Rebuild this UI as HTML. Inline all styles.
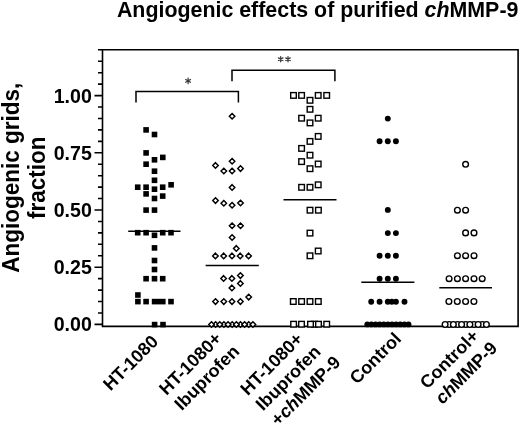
<!DOCTYPE html>
<html><head><meta charset="utf-8"><style>
html,body{margin:0;padding:0;background:#fff;}
body{width:520px;height:424px;overflow:hidden;}
svg{display:block;filter:grayscale(1);}
</style></head><body>
<svg width="520" height="424" viewBox="0 0 520 424">
<rect width="520" height="424" fill="#fff"/>
<text x="518.4" y="17.4" text-anchor="end" font-family="Liberation Sans, sans-serif" font-weight="bold" font-size="21.4" textLength="401.5" lengthAdjust="spacingAndGlyphs">Angiogenic effects of purified <tspan font-style="italic">ch</tspan>MMP-9</text>
<g transform="translate(18.8,177.8) rotate(-90) scale(1,1.07)"><text x="0" y="0" text-anchor="middle" font-family="Liberation Sans, sans-serif" font-weight="bold" font-size="22.5">Angiogenic grids,</text></g>
<g transform="translate(45.0,177.8) rotate(-90) scale(1,1.07)"><text x="0" y="0" text-anchor="middle" font-family="Liberation Sans, sans-serif" font-weight="bold" font-size="22.5">fraction</text></g>
<path d="M94.5,324.40H102.5 M98.0,312.96H102.5 M98.0,301.52H102.5 M98.0,290.08H102.5 M98.0,278.64H102.5 M94.5,267.20H102.5 M98.0,255.76H102.5 M98.0,244.32H102.5 M98.0,232.88H102.5 M98.0,221.44H102.5 M94.5,210.00H102.5 M98.0,198.56H102.5 M98.0,187.12H102.5 M98.0,175.68H102.5 M98.0,164.24H102.5 M94.5,152.80H102.5 M98.0,141.36H102.5 M98.0,129.92H102.5 M98.0,118.48H102.5 M98.0,107.04H102.5 M94.5,95.60H102.5 M98.0,84.16H102.5 M98.0,72.72H102.5 M98.0,61.28H102.5" stroke="#000" stroke-width="1.6" fill="none"/>
<path d="M98.0,49.8H518.1V326.4H102.5V49.8" stroke="#000" stroke-width="1.6" fill="none" stroke-linejoin="miter"/>
<text x="91.8" y="102.60" text-anchor="end" font-family="Liberation Sans, sans-serif" font-weight="bold" font-size="19.6">1.00</text>
<text x="91.8" y="159.80" text-anchor="end" font-family="Liberation Sans, sans-serif" font-weight="bold" font-size="19.6">0.75</text>
<text x="91.8" y="217.00" text-anchor="end" font-family="Liberation Sans, sans-serif" font-weight="bold" font-size="19.6">0.50</text>
<text x="91.8" y="274.20" text-anchor="end" font-family="Liberation Sans, sans-serif" font-weight="bold" font-size="19.6">0.25</text>
<text x="91.8" y="331.40" text-anchor="end" font-family="Liberation Sans, sans-serif" font-weight="bold" font-size="19.6">0.00</text>
<path d="M136,102.6V91.5H238.4V102.6" stroke="#000" stroke-width="1.5" fill="none"/>
<path d="M232,81.2V70.2H334.9V81.2" stroke="#000" stroke-width="1.5" fill="none"/>
<path d="M188.10,78.10L188.10,83.70M185.68,79.50L190.52,82.30M190.52,79.50L185.68,82.30" stroke="#3a3a3a" stroke-width="1.25" stroke-linecap="round"/>
<path d="M280.70,56.60L280.70,61.80M278.45,57.90L282.95,60.50M282.95,57.90L278.45,60.50" stroke="#3a3a3a" stroke-width="1.25" stroke-linecap="round"/>
<path d="M288.00,56.60L288.00,61.80M285.75,57.90L290.25,60.50M290.25,57.90L285.75,60.50" stroke="#3a3a3a" stroke-width="1.25" stroke-linecap="round"/>
<path d="M128.2,231.2H180.5" stroke="#000" stroke-width="1.5"/>
<path d="M205.6,265.4H258.8" stroke="#000" stroke-width="1.5"/>
<path d="M283.5,199.8H336.5" stroke="#000" stroke-width="1.5"/>
<path d="M361.3,282.3H414.4" stroke="#000" stroke-width="1.5"/>
<path d="M439.3,287.8H492.0" stroke="#000" stroke-width="1.5"/>
<rect x="151.8" y="298.8" width="13.8" height="5.6" fill="#000"/>
<rect x="143.30" y="127.10" width="5.6" height="5.6" fill="#000"/>
<rect x="151.70" y="131.70" width="5.6" height="5.6" fill="#000"/>
<rect x="143.30" y="150.10" width="5.6" height="5.6" fill="#000"/>
<rect x="160.00" y="154.60" width="5.6" height="5.6" fill="#000"/>
<rect x="151.70" y="157.00" width="5.6" height="5.6" fill="#000"/>
<rect x="143.30" y="161.40" width="5.6" height="5.6" fill="#000"/>
<rect x="151.70" y="168.40" width="5.6" height="5.6" fill="#000"/>
<rect x="151.70" y="177.50" width="5.6" height="5.6" fill="#000"/>
<rect x="168.30" y="182.00" width="5.6" height="5.6" fill="#000"/>
<rect x="134.90" y="184.40" width="5.6" height="5.6" fill="#000"/>
<rect x="143.30" y="184.40" width="5.6" height="5.6" fill="#000"/>
<rect x="159.90" y="184.40" width="5.6" height="5.6" fill="#000"/>
<rect x="151.70" y="186.40" width="5.6" height="5.6" fill="#000"/>
<rect x="143.30" y="191.10" width="5.6" height="5.6" fill="#000"/>
<rect x="159.90" y="193.30" width="5.6" height="5.6" fill="#000"/>
<rect x="151.70" y="195.70" width="5.6" height="5.6" fill="#000"/>
<rect x="143.30" y="207.30" width="5.6" height="5.6" fill="#000"/>
<rect x="151.70" y="207.30" width="5.6" height="5.6" fill="#000"/>
<rect x="134.90" y="229.90" width="5.6" height="5.6" fill="#000"/>
<rect x="143.30" y="229.90" width="5.6" height="5.6" fill="#000"/>
<rect x="159.90" y="229.90" width="5.6" height="5.6" fill="#000"/>
<rect x="168.20" y="229.90" width="5.6" height="5.6" fill="#000"/>
<rect x="151.70" y="232.50" width="5.6" height="5.6" fill="#000"/>
<rect x="151.70" y="245.10" width="5.6" height="5.6" fill="#000"/>
<rect x="151.70" y="257.70" width="5.6" height="5.6" fill="#000"/>
<rect x="151.70" y="266.70" width="5.6" height="5.6" fill="#000"/>
<rect x="143.30" y="275.90" width="5.6" height="5.6" fill="#000"/>
<rect x="151.70" y="275.90" width="5.6" height="5.6" fill="#000"/>
<rect x="159.90" y="275.90" width="5.6" height="5.6" fill="#000"/>
<rect x="135.10" y="292.20" width="5.6" height="5.6" fill="#000"/>
<rect x="135.10" y="298.80" width="5.6" height="5.6" fill="#000"/>
<rect x="143.30" y="298.80" width="5.6" height="5.6" fill="#000"/>
<rect x="168.20" y="298.80" width="5.6" height="5.6" fill="#000"/>
<rect x="151.80" y="321.80" width="5.6" height="5.6" fill="#000"/>
<rect x="160.20" y="321.80" width="5.6" height="5.6" fill="#000"/>
<path d="M232.10,113.45L234.85,116.20L232.10,118.95L229.35,116.20Z" fill="#fff" stroke="#000" stroke-width="1.45"/>
<path d="M232.10,158.45L234.85,161.20L232.10,163.95L229.35,161.20Z" fill="#fff" stroke="#000" stroke-width="1.45"/>
<path d="M215.50,162.65L218.25,165.40L215.50,168.15L212.75,165.40Z" fill="#fff" stroke="#000" stroke-width="1.45"/>
<path d="M240.50,165.85L243.25,168.60L240.50,171.35L237.75,168.60Z" fill="#fff" stroke="#000" stroke-width="1.45"/>
<path d="M223.80,168.25L226.55,171.00L223.80,173.75L221.05,171.00Z" fill="#fff" stroke="#000" stroke-width="1.45"/>
<path d="M232.10,168.25L234.85,171.00L232.10,173.75L229.35,171.00Z" fill="#fff" stroke="#000" stroke-width="1.45"/>
<path d="M232.10,184.65L234.85,187.40L232.10,190.15L229.35,187.40Z" fill="#fff" stroke="#000" stroke-width="1.45"/>
<path d="M215.50,197.85L218.25,200.60L215.50,203.35L212.75,200.60Z" fill="#fff" stroke="#000" stroke-width="1.45"/>
<path d="M223.80,200.55L226.55,203.30L223.80,206.05L221.05,203.30Z" fill="#fff" stroke="#000" stroke-width="1.45"/>
<path d="M240.50,200.25L243.25,203.00L240.50,205.75L237.75,203.00Z" fill="#fff" stroke="#000" stroke-width="1.45"/>
<path d="M232.10,202.55L234.85,205.30L232.10,208.05L229.35,205.30Z" fill="#fff" stroke="#000" stroke-width="1.45"/>
<path d="M232.10,223.05L234.85,225.80L232.10,228.55L229.35,225.80Z" fill="#fff" stroke="#000" stroke-width="1.45"/>
<path d="M240.50,223.05L243.25,225.80L240.50,228.55L237.75,225.80Z" fill="#fff" stroke="#000" stroke-width="1.45"/>
<path d="M232.10,234.75L234.85,237.50L232.10,240.25L229.35,237.50Z" fill="#fff" stroke="#000" stroke-width="1.45"/>
<path d="M236.30,245.65L239.05,248.40L236.30,251.15L233.55,248.40Z" fill="#fff" stroke="#000" stroke-width="1.45"/>
<path d="M215.40,253.15L218.15,255.90L215.40,258.65L212.65,255.90Z" fill="#fff" stroke="#000" stroke-width="1.45"/>
<path d="M223.70,253.15L226.45,255.90L223.70,258.65L220.95,255.90Z" fill="#fff" stroke="#000" stroke-width="1.45"/>
<path d="M232.00,253.15L234.75,255.90L232.00,258.65L229.25,255.90Z" fill="#fff" stroke="#000" stroke-width="1.45"/>
<path d="M240.20,253.15L242.95,255.90L240.20,258.65L237.45,255.90Z" fill="#fff" stroke="#000" stroke-width="1.45"/>
<path d="M248.60,253.15L251.35,255.90L248.60,258.65L245.85,255.90Z" fill="#fff" stroke="#000" stroke-width="1.45"/>
<path d="M240.40,272.85L243.15,275.60L240.40,278.35L237.65,275.60Z" fill="#fff" stroke="#000" stroke-width="1.45"/>
<path d="M223.60,275.65L226.35,278.40L223.60,281.15L220.85,278.40Z" fill="#fff" stroke="#000" stroke-width="1.45"/>
<path d="M231.90,275.65L234.65,278.40L231.90,281.15L229.15,278.40Z" fill="#fff" stroke="#000" stroke-width="1.45"/>
<path d="M240.40,280.65L243.15,283.40L240.40,286.15L237.65,283.40Z" fill="#fff" stroke="#000" stroke-width="1.45"/>
<path d="M231.90,285.15L234.65,287.90L231.90,290.65L229.15,287.90Z" fill="#fff" stroke="#000" stroke-width="1.45"/>
<path d="M248.70,294.35L251.45,297.10L248.70,299.85L245.95,297.10Z" fill="#fff" stroke="#000" stroke-width="1.45"/>
<path d="M215.50,298.85L218.25,301.60L215.50,304.35L212.75,301.60Z" fill="#fff" stroke="#000" stroke-width="1.45"/>
<path d="M223.80,298.85L226.55,301.60L223.80,304.35L221.05,301.60Z" fill="#fff" stroke="#000" stroke-width="1.45"/>
<path d="M232.00,298.85L234.75,301.60L232.00,304.35L229.25,301.60Z" fill="#fff" stroke="#000" stroke-width="1.45"/>
<path d="M240.40,298.85L243.15,301.60L240.40,304.35L237.65,301.60Z" fill="#fff" stroke="#000" stroke-width="1.45"/>
<path d="M215.64,321.75L218.39,324.50L215.64,327.25L212.89,324.50Z" fill="#fff" stroke="#000" stroke-width="1.45"/>
<path d="M223.92,321.75L226.67,324.50L223.92,327.25L221.17,324.50Z" fill="#fff" stroke="#000" stroke-width="1.45"/>
<path d="M232.20,321.75L234.95,324.50L232.20,327.25L229.45,324.50Z" fill="#fff" stroke="#000" stroke-width="1.45"/>
<path d="M240.48,321.75L243.23,324.50L240.48,327.25L237.73,324.50Z" fill="#fff" stroke="#000" stroke-width="1.45"/>
<path d="M248.76,321.75L251.51,324.50L248.76,327.25L246.01,324.50Z" fill="#fff" stroke="#000" stroke-width="1.45"/>
<path d="M211.50,321.75L214.25,324.50L211.50,327.25L208.75,324.50Z" fill="#fff" stroke="#000" stroke-width="1.45"/>
<path d="M219.78,321.75L222.53,324.50L219.78,327.25L217.03,324.50Z" fill="#fff" stroke="#000" stroke-width="1.45"/>
<path d="M228.06,321.75L230.81,324.50L228.06,327.25L225.31,324.50Z" fill="#fff" stroke="#000" stroke-width="1.45"/>
<path d="M236.34,321.75L239.09,324.50L236.34,327.25L233.59,324.50Z" fill="#fff" stroke="#000" stroke-width="1.45"/>
<path d="M244.62,321.75L247.37,324.50L244.62,327.25L241.87,324.50Z" fill="#fff" stroke="#000" stroke-width="1.45"/>
<path d="M252.90,321.75L255.65,324.50L252.90,327.25L250.15,324.50Z" fill="#fff" stroke="#000" stroke-width="1.45"/>
<rect x="290.70" y="92.60" width="5.6" height="5.6" fill="#fff" stroke="#000" stroke-width="1.4"/>
<rect x="298.80" y="92.60" width="5.6" height="5.6" fill="#fff" stroke="#000" stroke-width="1.4"/>
<rect x="315.40" y="92.60" width="5.6" height="5.6" fill="#fff" stroke="#000" stroke-width="1.4"/>
<rect x="323.90" y="92.60" width="5.6" height="5.6" fill="#fff" stroke="#000" stroke-width="1.4"/>
<rect x="307.20" y="97.50" width="5.6" height="5.6" fill="#fff" stroke="#000" stroke-width="1.4"/>
<rect x="307.20" y="106.50" width="5.6" height="5.6" fill="#fff" stroke="#000" stroke-width="1.4"/>
<rect x="298.80" y="115.40" width="5.6" height="5.6" fill="#fff" stroke="#000" stroke-width="1.4"/>
<rect x="315.40" y="115.40" width="5.6" height="5.6" fill="#fff" stroke="#000" stroke-width="1.4"/>
<rect x="307.20" y="120.10" width="5.6" height="5.6" fill="#fff" stroke="#000" stroke-width="1.4"/>
<rect x="315.40" y="133.60" width="5.6" height="5.6" fill="#fff" stroke="#000" stroke-width="1.4"/>
<rect x="307.20" y="138.60" width="5.6" height="5.6" fill="#fff" stroke="#000" stroke-width="1.4"/>
<rect x="298.80" y="145.60" width="5.6" height="5.6" fill="#fff" stroke="#000" stroke-width="1.4"/>
<rect x="307.20" y="152.40" width="5.6" height="5.6" fill="#fff" stroke="#000" stroke-width="1.4"/>
<rect x="298.80" y="158.80" width="5.6" height="5.6" fill="#fff" stroke="#000" stroke-width="1.4"/>
<rect x="315.40" y="161.20" width="5.6" height="5.6" fill="#fff" stroke="#000" stroke-width="1.4"/>
<rect x="307.20" y="165.90" width="5.6" height="5.6" fill="#fff" stroke="#000" stroke-width="1.4"/>
<rect x="298.80" y="184.50" width="5.6" height="5.6" fill="#fff" stroke="#000" stroke-width="1.4"/>
<rect x="307.20" y="184.50" width="5.6" height="5.6" fill="#fff" stroke="#000" stroke-width="1.4"/>
<rect x="315.40" y="182.00" width="5.6" height="5.6" fill="#fff" stroke="#000" stroke-width="1.4"/>
<rect x="307.20" y="207.40" width="5.6" height="5.6" fill="#fff" stroke="#000" stroke-width="1.4"/>
<rect x="315.60" y="207.40" width="5.6" height="5.6" fill="#fff" stroke="#000" stroke-width="1.4"/>
<rect x="307.20" y="230.30" width="5.6" height="5.6" fill="#fff" stroke="#000" stroke-width="1.4"/>
<rect x="315.40" y="248.20" width="5.6" height="5.6" fill="#fff" stroke="#000" stroke-width="1.4"/>
<rect x="307.20" y="253.00" width="5.6" height="5.6" fill="#fff" stroke="#000" stroke-width="1.4"/>
<rect x="290.50" y="298.70" width="5.6" height="5.6" fill="#fff" stroke="#000" stroke-width="1.4"/>
<rect x="298.80" y="298.70" width="5.6" height="5.6" fill="#fff" stroke="#000" stroke-width="1.4"/>
<rect x="307.20" y="298.70" width="5.6" height="5.6" fill="#fff" stroke="#000" stroke-width="1.4"/>
<rect x="315.50" y="298.70" width="5.6" height="5.6" fill="#fff" stroke="#000" stroke-width="1.4"/>
<rect x="311.70" y="321.40" width="5.6" height="5.6" fill="#fff" stroke="#000" stroke-width="1.4"/>
<rect x="290.80" y="321.40" width="5.6" height="5.6" fill="#fff" stroke="#000" stroke-width="1.4"/>
<rect x="298.70" y="321.40" width="5.6" height="5.6" fill="#fff" stroke="#000" stroke-width="1.4"/>
<rect x="307.70" y="321.40" width="5.6" height="5.6" fill="#fff" stroke="#000" stroke-width="1.4"/>
<rect x="315.70" y="321.40" width="5.6" height="5.6" fill="#fff" stroke="#000" stroke-width="1.4"/>
<rect x="323.90" y="321.40" width="5.6" height="5.6" fill="#fff" stroke="#000" stroke-width="1.4"/>
<circle cx="387.80" cy="118.60" r="2.95" fill="#000"/>
<circle cx="379.60" cy="141.30" r="2.95" fill="#000"/>
<circle cx="387.80" cy="141.30" r="2.95" fill="#000"/>
<circle cx="395.90" cy="141.30" r="2.95" fill="#000"/>
<circle cx="387.80" cy="209.90" r="2.95" fill="#000"/>
<circle cx="387.80" cy="233.10" r="2.95" fill="#000"/>
<circle cx="395.90" cy="233.10" r="2.95" fill="#000"/>
<circle cx="379.60" cy="255.80" r="2.95" fill="#000"/>
<circle cx="387.80" cy="255.80" r="2.95" fill="#000"/>
<circle cx="395.90" cy="255.80" r="2.95" fill="#000"/>
<circle cx="379.60" cy="278.70" r="2.95" fill="#000"/>
<circle cx="387.80" cy="278.70" r="2.95" fill="#000"/>
<circle cx="395.90" cy="278.70" r="2.95" fill="#000"/>
<circle cx="371.20" cy="301.70" r="2.95" fill="#000"/>
<circle cx="379.60" cy="301.70" r="2.95" fill="#000"/>
<circle cx="387.80" cy="301.70" r="2.95" fill="#000"/>
<circle cx="391.80" cy="301.70" r="2.95" fill="#000"/>
<circle cx="395.90" cy="301.70" r="2.95" fill="#000"/>
<circle cx="404.50" cy="301.70" r="2.95" fill="#000"/>
<circle cx="367.30" cy="324.40" r="2.95" fill="#000"/>
<circle cx="371.42" cy="324.40" r="2.95" fill="#000"/>
<circle cx="375.54" cy="324.40" r="2.95" fill="#000"/>
<circle cx="379.66" cy="324.40" r="2.95" fill="#000"/>
<circle cx="383.78" cy="324.40" r="2.95" fill="#000"/>
<circle cx="387.90" cy="324.40" r="2.95" fill="#000"/>
<circle cx="392.02" cy="324.40" r="2.95" fill="#000"/>
<circle cx="396.14" cy="324.40" r="2.95" fill="#000"/>
<circle cx="400.26" cy="324.40" r="2.95" fill="#000"/>
<circle cx="404.38" cy="324.40" r="2.95" fill="#000"/>
<circle cx="408.50" cy="324.40" r="2.95" fill="#000"/>
<circle cx="465.60" cy="164.30" r="2.85" fill="#fff" stroke="#000" stroke-width="1.4"/>
<circle cx="457.40" cy="210.20" r="2.85" fill="#fff" stroke="#000" stroke-width="1.4"/>
<circle cx="465.60" cy="210.20" r="2.85" fill="#fff" stroke="#000" stroke-width="1.4"/>
<circle cx="465.60" cy="232.90" r="2.85" fill="#fff" stroke="#000" stroke-width="1.4"/>
<circle cx="474.00" cy="232.90" r="2.85" fill="#fff" stroke="#000" stroke-width="1.4"/>
<circle cx="457.40" cy="255.70" r="2.85" fill="#fff" stroke="#000" stroke-width="1.4"/>
<circle cx="465.60" cy="255.70" r="2.85" fill="#fff" stroke="#000" stroke-width="1.4"/>
<circle cx="474.00" cy="255.70" r="2.85" fill="#fff" stroke="#000" stroke-width="1.4"/>
<circle cx="449.10" cy="278.70" r="2.85" fill="#fff" stroke="#000" stroke-width="1.4"/>
<circle cx="457.40" cy="278.70" r="2.85" fill="#fff" stroke="#000" stroke-width="1.4"/>
<circle cx="465.60" cy="278.70" r="2.85" fill="#fff" stroke="#000" stroke-width="1.4"/>
<circle cx="474.00" cy="278.70" r="2.85" fill="#fff" stroke="#000" stroke-width="1.4"/>
<circle cx="482.20" cy="278.70" r="2.85" fill="#fff" stroke="#000" stroke-width="1.4"/>
<circle cx="448.90" cy="301.50" r="2.85" fill="#fff" stroke="#000" stroke-width="1.4"/>
<circle cx="457.30" cy="301.50" r="2.85" fill="#fff" stroke="#000" stroke-width="1.4"/>
<circle cx="465.60" cy="301.50" r="2.85" fill="#fff" stroke="#000" stroke-width="1.4"/>
<circle cx="473.90" cy="301.50" r="2.85" fill="#fff" stroke="#000" stroke-width="1.4"/>
<circle cx="449.23" cy="324.50" r="2.85" fill="#fff" stroke="#000" stroke-width="1.4"/>
<circle cx="457.49" cy="324.50" r="2.85" fill="#fff" stroke="#000" stroke-width="1.4"/>
<circle cx="465.75" cy="324.50" r="2.85" fill="#fff" stroke="#000" stroke-width="1.4"/>
<circle cx="474.01" cy="324.50" r="2.85" fill="#fff" stroke="#000" stroke-width="1.4"/>
<circle cx="482.27" cy="324.50" r="2.85" fill="#fff" stroke="#000" stroke-width="1.4"/>
<circle cx="445.10" cy="324.50" r="2.85" fill="#fff" stroke="#000" stroke-width="1.4"/>
<circle cx="453.36" cy="324.50" r="2.85" fill="#fff" stroke="#000" stroke-width="1.4"/>
<circle cx="461.62" cy="324.50" r="2.85" fill="#fff" stroke="#000" stroke-width="1.4"/>
<circle cx="469.88" cy="324.50" r="2.85" fill="#fff" stroke="#000" stroke-width="1.4"/>
<circle cx="478.14" cy="324.50" r="2.85" fill="#fff" stroke="#000" stroke-width="1.4"/>
<circle cx="486.40" cy="324.50" r="2.85" fill="#fff" stroke="#000" stroke-width="1.4"/>
<g transform="translate(110.40,391.50) rotate(-45)"><text x="0" y="0.00" font-family="Liberation Sans, sans-serif" font-weight="bold" font-size="18.0">HT-1080</text></g>
<g transform="translate(166.50,395.90) rotate(-45)"><text x="0" y="0.00" font-family="Liberation Sans, sans-serif" font-weight="bold" font-size="18.0">HT-1080+</text><text x="0" y="21.60" font-family="Liberation Sans, sans-serif" font-weight="bold" font-size="18.0">Ibuprofen</text></g>
<g transform="translate(247.80,396.20) rotate(-45)"><text x="0" y="0.00" font-family="Liberation Sans, sans-serif" font-weight="bold" font-size="18.0">HT-1080+</text><text x="0" y="21.60" font-family="Liberation Sans, sans-serif" font-weight="bold" font-size="18.0">Ibuprofen</text><text x="0" y="43.20" font-family="Liberation Sans, sans-serif" font-weight="bold" font-size="18.0">+<tspan font-style="italic">ch</tspan>MMP-9</text></g>
<g transform="translate(357.10,385.10) rotate(-45)"><text x="0" y="0.00" font-family="Liberation Sans, sans-serif" font-weight="bold" font-size="18.0">Control</text></g>
<g transform="translate(427.30,389.80) rotate(-45)"><text x="0" y="0.00" font-family="Liberation Sans, sans-serif" font-weight="bold" font-size="18.0">Control+</text><text x="0" y="21.60" font-family="Liberation Sans, sans-serif" font-weight="bold" font-size="18.0"><tspan font-style="italic">ch</tspan>MMP-9</text></g>
</svg>
</body></html>
